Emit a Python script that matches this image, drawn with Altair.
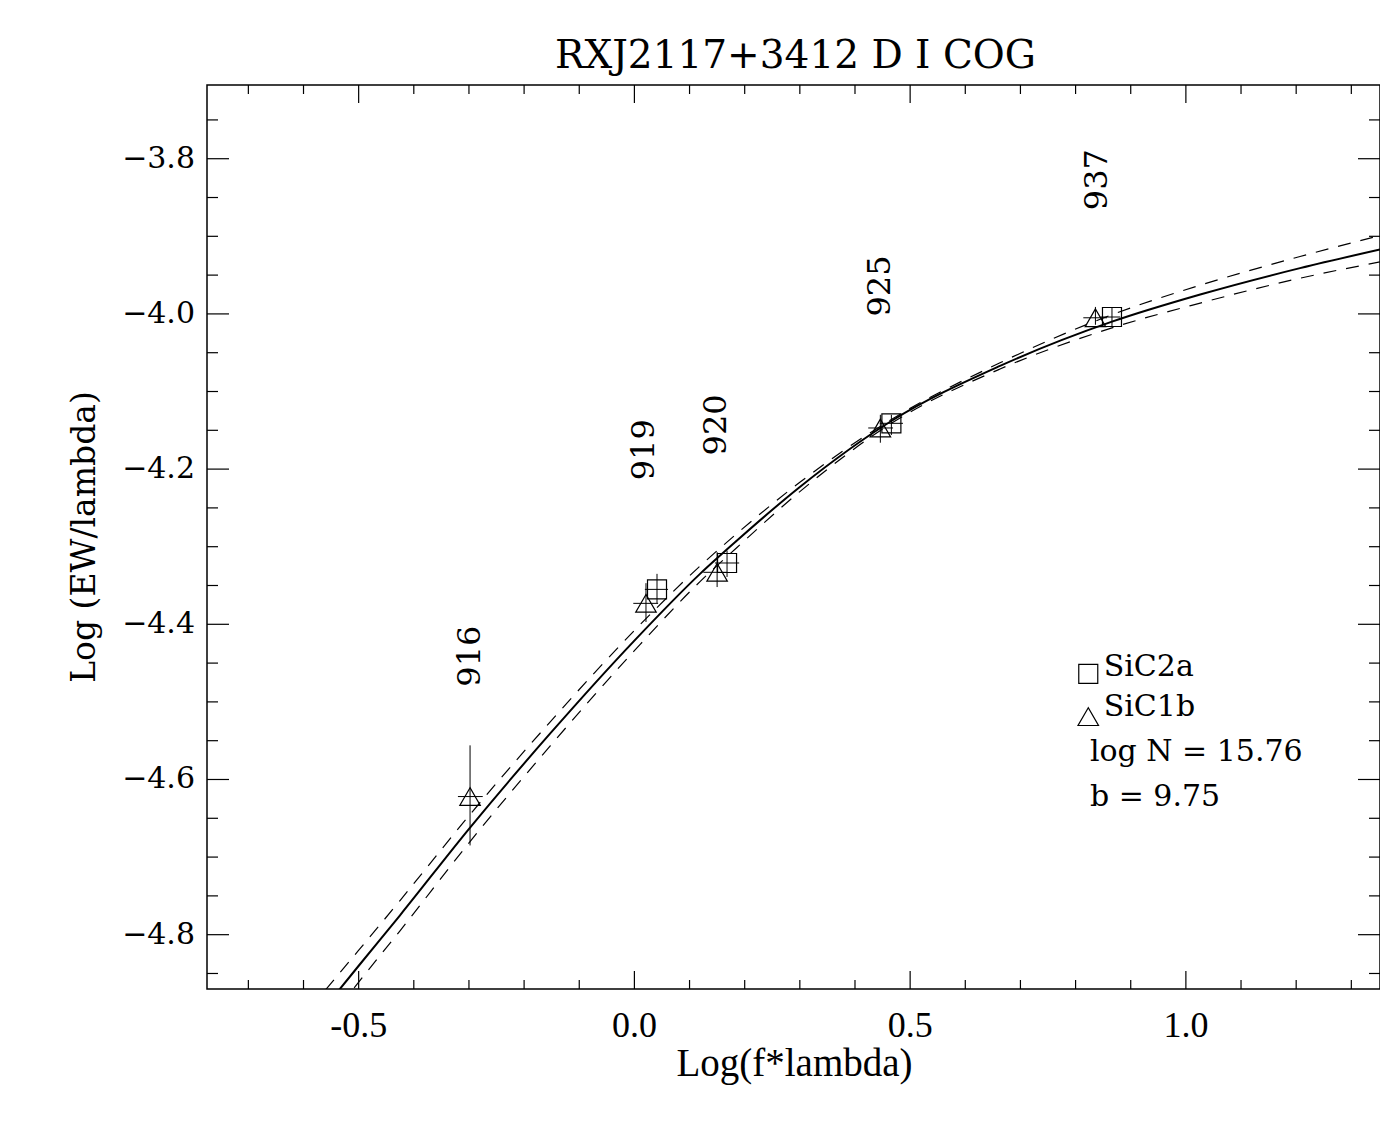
import altair as alt
import pandas as pd

# ---------------- data ----------------
curve_x = [-0.560, -0.534, -0.501, -0.425, -0.298, -0.153, 0.000, 0.119, 0.186,
           0.300, 0.466, 0.663, 0.866, 1.026, 1.207, 1.352]
curve_fit = [-4.893, -4.870, -4.841, -4.775, -4.662, -4.541, -4.421, -4.335, -4.292,
             -4.223, -4.138, -4.067, -4.010, -3.975, -3.941, -3.917]
curve_upper = [-4.871, -4.849, -4.821, -4.756, -4.645, -4.526, -4.408, -4.325, -4.283,
               -4.217, -4.136, -4.063, -4.001, -3.963, -3.926, -3.899]
curve_lower = [-4.915, -4.892, -4.862, -4.795, -4.680, -4.557, -4.434, -4.345, -4.301,
               -4.229, -4.141, -4.071, -4.018, -3.986, -3.954, -3.933]

sq_x = [0.041, 0.168, 0.466, 0.866]
sq_y = [-4.355, -4.321, -4.141, -4.004]
sq_ylo = [-4.373, -4.339, -4.156, -4.017]
sq_yhi = [-4.335, -4.305, -4.130, -3.992]
sq_xlo = [0.019, 0.146, 0.445, 0.845]
sq_xhi = [0.061, 0.190, 0.487, 0.881]

tri_x = [-0.298, 0.021, 0.150, 0.446, 0.836]
tri_y = [-4.622, -4.373, -4.333, -4.147, -4.005]
tri_ylo = [-4.685, -4.397, -4.352, -4.166, -4.014]
tri_yhi = [-4.556, -4.347, -4.307, -4.130, -3.991]
tri_xlo = [-0.320, -0.002, 0.125, 0.424, 0.814]
tri_xhi = [-0.275, 0.043, 0.168, 0.469, 0.857]

line_labels = ["916", "919", "920", "925", "937"]
line_label_x = [-0.298, 0.018, 0.148, 0.446, 0.839]
line_label_y = [-4.441, -4.175, -4.143, -3.964, -3.827]

legend_names = ["SiC2a", "SiC1b"]
fit_text = ["log N = 15.76", "b = 9.75"]

title_text = "RXJ2117+3412 D I COG"
x_title = "Log(f*lambda)"
y_title = "Log (EW/lambda)"

x_major = [-0.5, 0.0, 0.5, 1.0]
x_major_labels = ["-0.5", "0.0", "0.5", "1.0"]
x_minor = [-0.7, -0.6, -0.4, -0.3, -0.2, -0.1, 0.1, 0.2, 0.3, 0.4, 0.6, 0.7,
           0.8, 0.9, 1.1, 1.2, 1.3]
y_major = [-3.8, -4.0, -4.2, -4.4, -4.6, -4.8]
y_major_labels = ["\u22123.8", "\u22124.0", "\u22124.2", "\u22124.4", "\u22124.6", "\u22124.8"]
y_minor = [-3.75, -3.85, -3.9, -3.95, -4.05, -4.1, -4.15, -4.25, -4.3, -4.35,
           -4.45, -4.5, -4.55, -4.65, -4.7, -4.75, -4.85]

# ---------------- layout constants ----------------
W, H = 1173, 904
XDOM = [-0.775, 1.352]
YDOM = [-4.870, -3.705]
SERIF = "DejaVu Serif"
NARROW = "Liberation Serif"

xs = alt.Scale(domain=XDOM, nice=False, zero=False)
ys = alt.Scale(domain=YDOM, nice=False, zero=False)


def X(field):
    return alt.X(field, type="quantitative", scale=xs, axis=None)


def Y(field):
    return alt.Y(field, type="quantitative", scale=ys, axis=None)


# ---------------- tables ----------------
fit_df = pd.DataFrame({"x": curve_x, "y": curve_fit})
dash_df = pd.concat([
    pd.DataFrame({"x": curve_x, "y": curve_upper, "s": "upper"}),
    pd.DataFrame({"x": curve_x, "y": curve_lower, "s": "lower"}),
])
sq_df = pd.DataFrame({"x": sq_x, "y": sq_y, "ylo": sq_ylo, "yhi": sq_yhi,
                      "xlo": sq_xlo, "xhi": sq_xhi})
tri_df = pd.DataFrame({"x": tri_x, "y": tri_y, "ylo": tri_ylo, "yhi": tri_yhi,
                       "xlo": tri_xlo, "xhi": tri_xhi})
err_df = pd.concat([sq_df, tri_df])
lab_df = pd.DataFrame({"t": line_labels, "x": line_label_x, "y": line_label_y})

leg_sym_df = pd.DataFrame({"x": [0.823], "y": [-4.464]})
leg_tri_df = pd.DataFrame({"x": [0.823], "y": [-4.519]})
leg_txt_df = pd.DataFrame({
    "t": legend_names + fit_text,
    "x": [0.851, 0.851, 0.826, 0.826],
    "y": [-4.455, -4.506, -4.565, -4.623],
})

ytick_major_df = pd.DataFrame({"v": y_major, "t": y_major_labels})
ytick_minor_df = pd.DataFrame({"v": y_minor})
xtick_major_df = pd.DataFrame({"v": x_major, "t": x_major_labels})
xtick_minor_df = pd.DataFrame({"v": x_minor})
one_df = pd.DataFrame({"title": [title_text], "xt": [x_title], "yt": [y_title]})

# ---------------- layers ----------------
fit = alt.Chart(fit_df).mark_line(color="black", strokeWidth=2, clip=True,
                                  interpolate="monotone").encode(
    x=X("x"), y=Y("y"))
dashed = alt.Chart(dash_df).mark_line(color="black", strokeWidth=1.2, clip=True,
                                      strokeDash=[13, 10], interpolate="monotone").encode(
    x=X("x"), y=Y("y"), detail="s:N")

vbar = alt.Chart(err_df).mark_rule(color="black", strokeWidth=1).encode(
    x=X("x"), y=Y("ylo"), y2="yhi")
hbar = alt.Chart(err_df).mark_rule(color="black", strokeWidth=1).encode(
    x=X("xlo"), x2="xhi", y=Y("y"))

squares = alt.Chart(sq_df).mark_point(shape="square", size=361, filled=False,
                                      color="black", strokeWidth=1.2, opacity=1).encode(
    x=X("x"), y=Y("y"))
triangles = alt.Chart(tri_df).mark_point(shape="triangle-up", size=420, filled=False,
                                         color="black", strokeWidth=1.2, opacity=1).encode(
    x=X("x"), y=Y("y"))

labels = alt.Chart(lab_df).mark_text(font=SERIF, fontSize=32, angle=270, align="center",
                                     baseline="middle", color="black").encode(
    x=X("x"), y=Y("y"), text="t:N")

leg_sq = alt.Chart(leg_sym_df).mark_point(shape="square", size=361, filled=False,
                                          color="black", strokeWidth=1.2, opacity=1).encode(
    x=X("x"), y=Y("y"))
leg_tr = alt.Chart(leg_tri_df).mark_point(shape="triangle-up", size=420, filled=False,
                                          color="black", strokeWidth=1.2, opacity=1).encode(
    x=X("x"), y=Y("y"))
leg_txt = alt.Chart(leg_txt_df).mark_text(font=SERIF, fontSize=30, align="left",
                                          baseline="middle", color="black").encode(
    x=X("x"), y=Y("y"), text="t:N")

# ticks (inward, IDL style)
tick_style = dict(color="black", strokeWidth=1.2)
yl_major = alt.Chart(ytick_major_df).mark_rule(**tick_style).encode(
    y=Y("v"), x=alt.value(0), x2=alt.value(22))
yl_minor = alt.Chart(ytick_minor_df).mark_rule(**tick_style).encode(
    y=Y("v"), x=alt.value(0), x2=alt.value(11))
yr_major = alt.Chart(ytick_major_df).mark_rule(**tick_style).encode(
    y=Y("v"), x=alt.value(W), x2=alt.value(W - 22))
yr_minor = alt.Chart(ytick_minor_df).mark_rule(**tick_style).encode(
    y=Y("v"), x=alt.value(W), x2=alt.value(W - 11))
xb_major = alt.Chart(xtick_major_df).mark_rule(**tick_style).encode(
    x=X("v"), y=alt.value(H), y2=alt.value(H - 18))
xb_minor = alt.Chart(xtick_minor_df).mark_rule(**tick_style).encode(
    x=X("v"), y=alt.value(H), y2=alt.value(H - 9))
xt_major = alt.Chart(xtick_major_df).mark_rule(**tick_style).encode(
    x=X("v"), y=alt.value(0), y2=alt.value(18))
xt_minor = alt.Chart(xtick_minor_df).mark_rule(**tick_style).encode(
    x=X("v"), y=alt.value(0), y2=alt.value(9))

# tick labels and titles
ylab = alt.Chart(ytick_major_df).mark_text(font=SERIF, fontSize=30, align="right",
                                           baseline="middle", color="black").encode(
    y=Y("v"), x=alt.value(-12), text="t:N")
xlab = alt.Chart(xtick_major_df).mark_text(font=NARROW, fontSize=36, align="center",
                                           baseline="top", color="black").encode(
    x=X("v"), y=alt.value(H + 20), text="t:N")
xtitle = alt.Chart(one_df).mark_text(font=NARROW, fontSize=39, align="center",
                                     baseline="middle", color="black").encode(
    x=alt.value(W / 2 + 1), y=alt.value(H + 75), text="xt:N")
ytitle = alt.Chart(one_df).mark_text(font=SERIF, fontSize=33, align="center",
                                     baseline="middle", angle=270, color="black").encode(
    x=alt.value(-122), y=alt.value(H / 2), text="yt:N")
ttl = alt.Chart(one_df).mark_text(font=SERIF, fontSize=39, align="center",
                                  baseline="alphabetic", color="black").encode(
    x=alt.value(W / 2 + 2), y=alt.value(-17), text="title:N")

chart = alt.layer(
    fit, dashed, vbar, hbar, squares, triangles, labels,
    leg_sq, leg_tr, leg_txt,
    yl_major, yl_minor, yr_major, yr_minor, xb_major, xb_minor, xt_major, xt_minor,
    ylab, xlab, xtitle, ytitle, ttl,
).properties(
    width=W, height=H,
    background="white",
    autosize=alt.AutoSizeParams(type="none"),
    padding={"left": 207, "top": 85, "right": 0, "bottom": 140},
).configure_view(
    stroke="black", strokeWidth=1.5
)

chart.save("out.html", embed_options={"renderer": "svg", "actions": False})
